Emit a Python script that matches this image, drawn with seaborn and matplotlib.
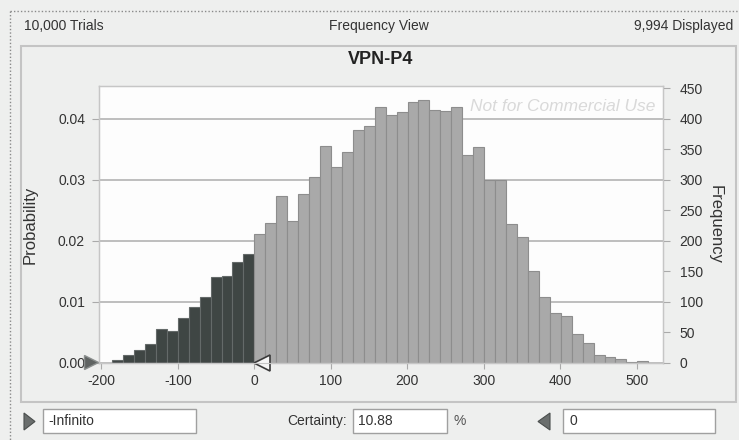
import numpy as np
import pandas as pd
import seaborn as sns
import matplotlib.pyplot as plt
from matplotlib.patches import Rectangle, Polygon
from matplotlib.lines import Line2D

# values
trials = 10000
displayed = 9994
certainty = 10.88
bin_start = -185.9
bin_width = 14.3
freq_below = [5, 13, 22, 31, 55, 52, 74, 92, 108, 141, 143, 165, 178]
freq_above = [212, 230, 273, 233, 277, 305, 355, 321, 345, 381, 389, 420,
              407, 411, 427, 431, 414, 413, 419, 341, 354, 300, 300, 227,
              206, 151, 108, 82, 77, 48, 33, 13, 10, 6, 1, 3]
x_ticks = [-200, -100, 0, 100, 200, 300, 400, 500]
prob_ticks = [0.0, 0.01, 0.02, 0.03, 0.04]
freq_ticks = [0, 50, 100, 150, 200, 250, 300, 350, 400, 450]

sns.set_style("white")
plt.rcParams["font.family"] = ["Liberation Sans", "DejaVu Sans"]
plt.rcParams["axes.unicode_minus"] = False

W, H = 739, 440
def fx(x):
    return x / W
def fy(y):
    return 1 - y / H

n_below = len(freq_below)
edges = bin_start + bin_width * np.arange(n_below + len(freq_above) + 1)
centers = (edges[:-1] + edges[1:]) / 2
df = pd.DataFrame({
    "center": centers,
    "prob": np.array(freq_below + freq_above) / displayed,
    "side": ["below"] * n_below + ["above"] * len(freq_above),
})

bg = "#eeefee"
fig = plt.figure(figsize=(W / 100, H / 100), dpi=100)
fig.patch.set_facecolor(bg)

ax = fig.add_axes([fx(99), fy(363), fx(663) - fx(99), fy(86) - fy(363)])
sns.histplot(data=df[df.side == "below"], x="center", weights="prob",
             bins=list(edges[:n_below + 1]), color="#3f4644", edgecolor="#646a69",
             linewidth=0.8, alpha=1, ax=ax)
sns.histplot(data=df[df.side == "above"], x="center", weights="prob",
             bins=list(edges[n_below:]), color="#a9a9a9", edgecolor="#8d8d8d",
             linewidth=0.8, alpha=1, ax=ax)

ylim_top = 0.0454
ax.set_xlim(-203, 534)
ax.set_ylim(0, ylim_top)
ax.set_facecolor("#fdfdfd")
ax.set_xticks(x_ticks)
ax.set_xticklabels([str(v) for v in x_ticks])
ax.set_yticks(prob_ticks)
ax.set_yticklabels([f"{v:.2f}" for v in prob_ticks])
ax.grid(axis="y", color="#b9b9b9", lw=1.3)
ax.grid(axis="x", visible=False)
ax.set_axisbelow(True)
for s in ax.spines.values():
    s.set_color("#c6c6c6")
    s.set_linewidth(1)
ax.tick_params(axis="y", left=True, length=5, color="#aaaaaa", pad=5,
               labelsize=10, labelcolor="#333333")
ax.tick_params(axis="x", bottom=True, length=4, color="#aaaaaa", pad=4,
               labelsize=10, labelcolor="#333333")
ax.set_xlabel("")
ax.set_ylabel("Probability", fontsize=12, color="#333333")
ax.yaxis.set_label_coords(-0.108, 0.5)

ax2 = ax.twinx()
ax2.set_ylim(0, ylim_top * displayed)
ax2.set_yticks(freq_ticks)
ax2.set_yticklabels([str(v) for v in freq_ticks])
ax2.grid(False)
for s in ax2.spines.values():
    s.set_color("#c6c6c6")
ax2.tick_params(axis="y", right=True, length=5, color="#aaaaaa", pad=7,
                labelsize=10, labelcolor="#333333")
ax2.set_ylabel("Frequency", fontsize=12, color="#333333", rotation=270,
               va="center")
ax2.yaxis.set_label_coords(1.092, 0.5)

ax.text(0.986, 0.925, "Not for Commercial Use", transform=ax.transAxes,
        ha="right", va="center", fontsize=12.5, style="italic",
        color="#d9d9d9", zorder=5)

# certainty grabbers
ax.plot([-0.014], [0.004], transform=ax.transAxes, marker=">", ms=10,
        color="#5f6362", mec="#8a8e8d", clip_on=False, zorder=6)
ax.plot([10.6], [0], marker="<", ms=11, mfc="#f5f5f5", mec="#3a3a3a",
        mew=1.2, clip_on=False, zorder=6)

# window chrome
fig.add_artist(Line2D([fx(10), fx(739)], [fy(11), fy(11)], ls=(0, (1, 1.5)),
                      color="#8a8a8a", lw=1))
fig.add_artist(Line2D([fx(10), fx(10)], [fy(11), fy(440)], ls=(0, (1, 1.5)),
                      color="#8a8a8a", lw=1))
fig.add_artist(Rectangle((fx(21), fy(402)), fx(736) - fx(21), fy(46) - fy(402),
                         fill=False, ec="#c4c4c4", lw=1.5,
                         transform=fig.transFigure))

fig.text(fx(24), fy(26), f"{trials:,} Trials", ha="left", va="center",
         fontsize=10, color="#333333")
fig.text(fx(379), fy(26), "Frequency View", ha="center", va="center",
         fontsize=10, color="#333333")
fig.text(fx(733), fy(26), f"{displayed:,} Displayed", ha="right", va="center",
         fontsize=10, color="#333333")
fig.text(fx(381), fy(59), "VPN-P4", ha="center", va="center", fontsize=13,
         weight="bold", color="#222222")

# bottom row
for x0, x1 in [(43, 196), (353, 447), (563, 715)]:
    fig.add_artist(Rectangle((fx(x0), fy(433)), fx(x1) - fx(x0), fy(409) - fy(433),
                             fc="white", ec="#a0a0a0", lw=1,
                             transform=fig.transFigure))
fig.add_artist(Polygon([(fx(24), fy(413)), (fx(24), fy(430)), (fx(35), fy(421.5))],
                       closed=True, fc="#6a6e6d", ec="#4a4e4d", lw=0.8,
                       transform=fig.transFigure))
fig.add_artist(Polygon([(fx(550), fy(413)), (fx(550), fy(430)), (fx(538), fy(421.5))],
                       closed=True, fc="#6a6e6d", ec="#4a4e4d", lw=0.8,
                       transform=fig.transFigure))
fig.text(fx(48), fy(421), "-Infinito", ha="left", va="center", fontsize=10,
         color="#333333")
fig.text(fx(347), fy(421), "Certainty:", ha="right", va="center", fontsize=10,
         color="#333333")
fig.text(fx(358), fy(421), f"{certainty:.2f}", ha="left", va="center",
         fontsize=10, color="#333333")
fig.text(fx(454), fy(421), "%", ha="left", va="center", fontsize=10,
         color="#555555")
fig.text(fx(569), fy(421), "0", ha="left", va="center", fontsize=10,
         color="#333333")

fig.savefig("out.png", dpi=100, facecolor=bg)
